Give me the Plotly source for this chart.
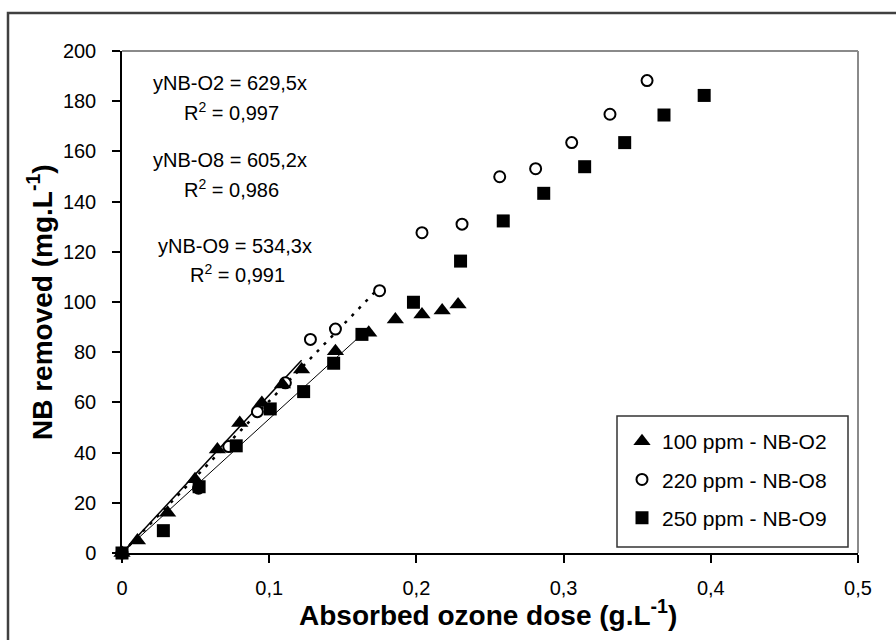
import plotly.graph_objects as go

# ---------------- data ----------------
x_o2 = [0, 0.0105, 0.031, 0.0496, 0.0648, 0.080, 0.095, 0.109, 0.122, 0.145, 0.1676, 0.1857, 0.2038, 0.2175, 0.2283]
y_o2 = [0, 5.0, 16.0, 29.4, 41.2, 51.8, 59.8, 67.1, 73.1, 80.4, 87.7, 93.0, 95.0, 96.6, 99.0]

x_o8 = [0, 0.052, 0.0725, 0.092, 0.111, 0.128, 0.145, 0.175, 0.2038, 0.231, 0.2566, 0.281, 0.3055, 0.3315, 0.3567]
y_o8 = [0, 25.8, 42.4, 56.3, 67.8, 85.1, 89.2, 104.5, 127.6, 131.0, 149.9, 153.1, 163.5, 174.8, 188.2]

x_o9 = [0, 0.0281, 0.0524, 0.0776, 0.1007, 0.1234, 0.1438, 0.163, 0.198, 0.230, 0.259, 0.2865, 0.3143, 0.3415, 0.3682, 0.3955]
y_o9 = [0, 8.9, 26.4, 42.7, 57.4, 64.3, 75.6, 87.1, 99.9, 116.3, 132.3, 143.3, 153.9, 163.5, 174.5, 182.3]

names = ["100 ppm - NB-O2", "220 ppm - NB-O8", "250 ppm - NB-O9"]

# linear fits (through origin) and the x-extent of each fitted line
slopes = [629.5, 605.2, 534.3]
fit_xmax = [0.122, 0.175, 0.163]
equations = ["yNB-O2 = 629,5x", "yNB-O8 = 605,2x", "yNB-O9 = 534,3x"]
r2_values = ["0,997", "0,986", "0,991"]

x_ticks = [0, 0.1, 0.2, 0.3, 0.4, 0.5]
y_ticks = [0, 20, 40, 60, 80, 100, 120, 140, 160, 180, 200]

# ---------------- figure ----------------
W, H = 896, 640
L, R, T, B = 122, 38, 51, 87
pw, ph = W - L - R, H - T - B


def px_x(p):
    return (p - L) / pw


def px_y(p):
    return (H - B - p) / ph


FONT = "Arial, Liberation Sans, sans-serif"

fig = go.Figure()

# fitted lines
line_styles = [dict(color="black", width=1.5),
               dict(color="black", width=2.5, dash="3px,7px"),
               dict(color="black", width=1)]
for s, xm, ls in zip(slopes, fit_xmax, line_styles):
    fig.add_trace(go.Scatter(x=[0, xm], y=[0, s * xm], mode="lines", line=ls,
                             showlegend=False, hoverinfo="skip", cliponaxis=False))

# markers (draw circles, squares, then triangles)
fig.add_trace(go.Scatter(x=x_o8, y=y_o8, mode="markers", name=names[1],
                         marker=dict(symbol="circle", size=11, color="white",
                                     line=dict(color="black", width=2)),
                         cliponaxis=False, legendrank=2, legendgroup="b"))
fig.add_trace(go.Scatter(x=x_o9, y=y_o9, mode="markers", name=names[2],
                         marker=dict(symbol="square", size=13, color="black",
                                     line=dict(width=0)),
                         cliponaxis=False, legendrank=3, legendgroup="c"))
fig.add_trace(go.Scatter(x=x_o2, y=y_o2, mode="markers", name=names[0],
                         marker=dict(symbol="triangle-up", size=15, color="black",
                                     line=dict(width=0)),
                         cliponaxis=False, legendrank=1, legendgroup="a"))

# equation annotations
eq_pos = [(230, 83), (230, 160), (235, 246)]
r2_pos = [(231, 111), (231, 188), (237, 273)]
anns = []
for eq, r2, (ex, ey), (rx, ry) in zip(equations, r2_values, eq_pos, r2_pos):
    anns.append(dict(x=px_x(ex), y=px_y(ey), xref="paper", yref="paper", text=eq,
                     showarrow=False, xanchor="center", yanchor="middle",
                     font=dict(family=FONT, size=20, color="black")))
    anns.append(dict(x=px_x(rx), y=px_y(ry), xref="paper", yref="paper",
                     text="R<sup>2</sup> = " + r2,
                     showarrow=False, xanchor="center", yanchor="middle",
                     font=dict(family=FONT, size=20, color="black")))

# axis titles
anns.append(dict(x=px_x(488), y=px_y(613), xref="paper", yref="paper",
                 text="<b>Absorbed ozone dose (g.L<sup>-1</sup>)</b>",
                 showarrow=False, xanchor="center", yanchor="middle",
                 font=dict(family=FONT, size=28, color="black")))
anns.append(dict(x=px_x(40), y=px_y(302), xref="paper", yref="paper",
                 text="<b>NB removed (mg.L<sup>-1</sup>)</b>", textangle=-90,
                 showarrow=False, xanchor="center", yanchor="middle",
                 font=dict(family=FONT, size=28, color="black")))

shapes = [
    # outer frame
    dict(type="rect", xref="paper", yref="paper",
         x0=px_x(8), y0=px_y(700), x1=px_x(950), y1=px_y(13),
         line=dict(color="#404040", width=2.5), fillcolor="rgba(0,0,0,0)", layer="above"),
    # top & right plot borders (gray)
    dict(type="line", xref="paper", yref="paper", x0=0, y0=1, x1=1, y1=1,
         line=dict(color="#8a8a8a", width=2)),
    dict(type="line", xref="paper", yref="paper", x0=1, y0=0, x1=1, y1=1,
         line=dict(color="#8a8a8a", width=2)),
    # legend box
    dict(type="rect", xref="paper", yref="paper",
         x0=px_x(617), y0=px_y(547), x1=px_x(848), y1=px_y(416),
         line=dict(color="#333333", width=1.5), fillcolor="white", layer="below"),
]

fig.update_layout(
    width=W, height=H,
    margin=dict(l=L, r=R, t=T, b=B),
    paper_bgcolor="white", plot_bgcolor="white",
    separators=",.",
    font=dict(family=FONT, size=20, color="black"),
    showlegend=True,
    legend=dict(x=px_x(622), y=px_y(421), xanchor="left", yanchor="top",
                bgcolor="rgba(0,0,0,0)", borderwidth=0,
                font=dict(family=FONT, size=21, color="black"),
                traceorder="grouped", tracegroupgap=8, itemwidth=30),
    annotations=anns,
    shapes=shapes,
)

fig.update_xaxes(range=[0, 0.5], tickvals=x_ticks, showgrid=False, zeroline=False,
                 showline=True, linecolor="black", linewidth=2,
                 ticks="outside", ticklen=8, tickwidth=1.5, tickcolor="black",
                 ticklabelstandoff=8,
                 tickfont=dict(family=FONT, size=20, color="black"))
fig.update_yaxes(range=[0, 200], tickvals=y_ticks, showgrid=False, zeroline=False,
                 showline=True, linecolor="black", linewidth=1.5,
                 ticks="outside", ticklen=8, tickwidth=1.5, tickcolor="black",
                 ticklabelstandoff=12,
                 tickfont=dict(family=FONT, size=20, color="black"))

fig.write_html("out.html")
